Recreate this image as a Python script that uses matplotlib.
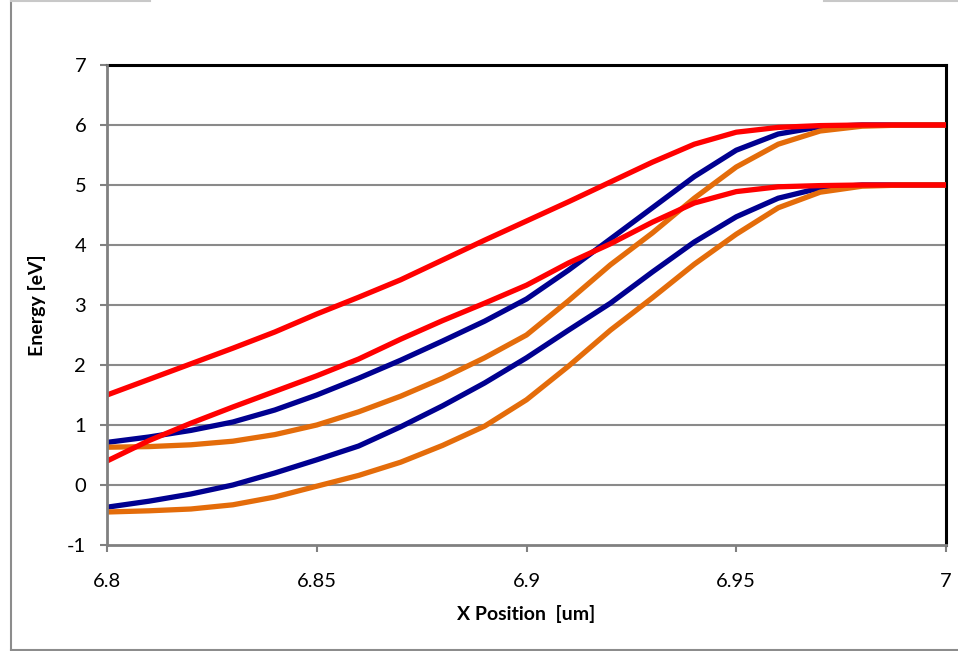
import numpy as np
import matplotlib
matplotlib.use("Agg")
import matplotlib.pyplot as plt
from matplotlib.lines import Line2D

plt.rcParams['font.family'] = ['Lato', 'DejaVu Sans']
plt.rcParams['axes.unicode_minus'] = False

# x positions [um]
x_pos = [6.80, 6.81, 6.82, 6.83, 6.84, 6.85, 6.86, 6.87, 6.88, 6.89, 6.90,
         6.91, 6.92, 6.93, 6.94, 6.95, 6.96, 6.97, 6.98, 6.99, 7.00]

# blue pair
blue_upper = [0.71, 0.80, 0.91, 1.05, 1.25, 1.50, 1.78, 2.08, 2.40, 2.73, 3.10,
              3.58, 4.10, 4.62, 5.14, 5.58, 5.85, 5.97, 6.00, 6.00, 6.00]
blue_lower = [-0.37, -0.27, -0.15, 0.00, 0.20, 0.42, 0.65, 0.97, 1.32, 1.70, 2.12,
              2.58, 3.03, 3.55, 4.05, 4.47, 4.78, 4.95, 5.00, 5.00, 5.00]

# orange pair
orange_upper = [0.63, 0.64, 0.67, 0.73, 0.84, 1.00, 1.22, 1.48, 1.78, 2.12, 2.50,
                3.07, 3.67, 4.20, 4.78, 5.30, 5.68, 5.90, 5.98, 6.00, 6.00]
orange_lower = [-0.45, -0.43, -0.40, -0.33, -0.20, -0.02, 0.16, 0.38, 0.66, 0.98, 1.42,
                1.98, 2.58, 3.12, 3.68, 4.18, 4.62, 4.88, 4.98, 5.00, 5.00]

# red pair
red_upper = [1.50, 1.76, 2.02, 2.28, 2.55, 2.85, 3.13, 3.42, 3.75, 4.08, 4.40,
             4.72, 5.05, 5.38, 5.68, 5.88, 5.96, 5.99, 6.00, 6.00, 6.00]
red_lower = [0.40, 0.74, 1.03, 1.30, 1.56, 1.82, 2.10, 2.43, 2.74, 3.03, 3.33,
             3.70, 4.02, 4.38, 4.70, 4.89, 4.97, 4.99, 5.00, 5.00, 5.00]

x_ticks = [6.8, 6.85, 6.9, 6.95, 7.0]
x_ticklabels = ['6.8', '6.85', '6.9', '6.95', '7']
y_ticks = [-1, 0, 1, 2, 3, 4, 5, 6, 7]

fig = plt.figure(figsize=(9.58, 6.51), dpi=100)
ax = fig.add_axes([107/958, 1-545/651, (946-107)/958, (545-65)/651])

lw = 3.8
ax.plot(x_pos, blue_upper, color='#000090', lw=lw, zorder=3)
ax.plot(x_pos, blue_lower, color='#000090', lw=lw, zorder=3)
ax.plot(x_pos, orange_upper, color='#E46C0A', lw=lw, zorder=4)
ax.plot(x_pos, orange_lower, color='#E46C0A', lw=lw, zorder=4)
ax.plot(x_pos, red_upper, color='#FF0000', lw=lw, zorder=5)
ax.plot(x_pos, red_lower, color='#FF0000', lw=lw, zorder=5)

ax.set_xlim(6.8, 7.0)
ax.set_ylim(-1, 7)
ax.set_xticks(x_ticks)
ax.set_xticklabels(x_ticklabels)
ax.set_yticks(y_ticks)

for yv in y_ticks[1:-1]:
    ax.axhline(yv, color='#8a8a8a', lw=1.5, zorder=1)

for s in ['top', 'right']:
    ax.spines[s].set_color('black')
    ax.spines[s].set_linewidth(2.2)
for s in ['left', 'bottom']:
    ax.spines[s].set_color('#808080')
    ax.spines[s].set_linewidth(2.0)
    ax.spines[s].set_zorder(6)

ax.tick_params(axis='both', direction='out', length=5, width=1.5, color='#808080',
               labelsize=14.5, labelcolor='black')
ax.tick_params(axis='x', pad=15)
ax.tick_params(axis='y', pad=10)

ax.set_xlabel('X Position  [um]', fontsize=14, fontweight='bold', labelpad=11)
ax.set_ylabel('Energy [eV]', fontsize=14, fontweight='bold', labelpad=15)

# outer chart border (partially cropped)
fig.add_artist(Line2D([11/958, 11/958], [0, 1], transform=fig.transFigure,
                      color='#8c8c8c', lw=1.5))
fig.add_artist(Line2D([11/958, 1], [1.5/651, 1.5/651], transform=fig.transFigure,
                      color='#8c8c8c', lw=1.5))
fig.add_artist(Line2D([11/958, 150/958], [1-0.5/651, 1-0.5/651], transform=fig.transFigure,
                      color='#c8c8c8', lw=1.5))
fig.add_artist(Line2D([824/958, 1], [1-0.5/651, 1-0.5/651], transform=fig.transFigure,
                      color='#c8c8c8', lw=1.5))

fig.savefig('out.png', dpi=100)
